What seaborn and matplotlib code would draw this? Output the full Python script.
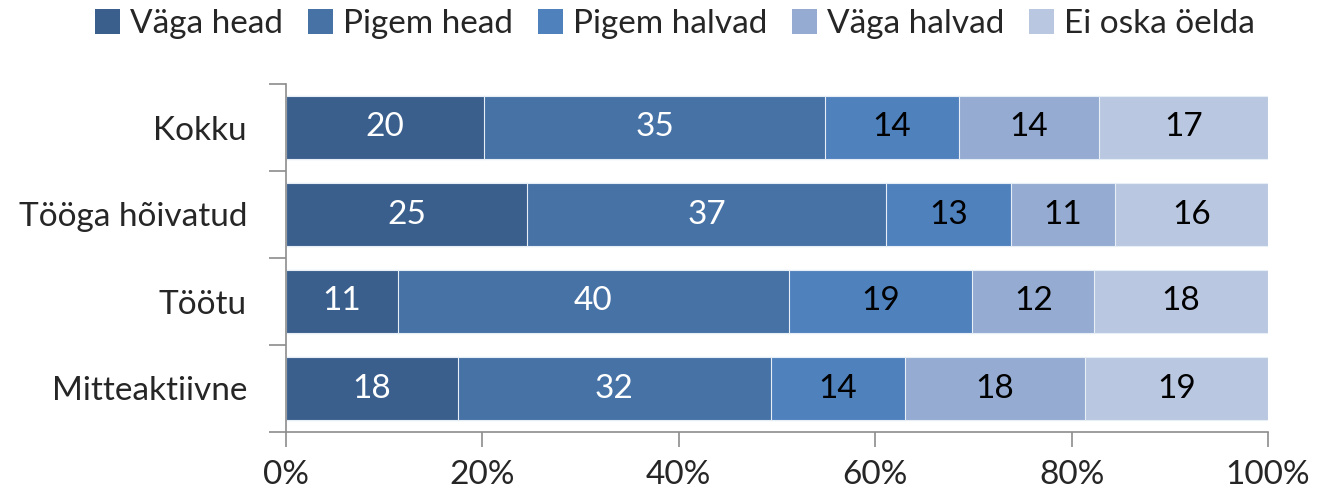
import numpy as np
import pandas as pd
import matplotlib
matplotlib.use("Agg")
import matplotlib.pyplot as plt
import seaborn as sns
from matplotlib.patches import Patch
from matplotlib.ticker import FixedLocator

categories = ["Kokku", "Tööga hõivatud", "Töötu", "Mitteaktiivne"]
series = ["Väga head", "Pigem head", "Pigem halvad", "Väga halvad", "Ei oska öelda"]
vaga_head = [20.2, 24.6, 11.4, 17.5]
pigem_head = [34.7, 36.6, 39.8, 31.9]
pigem_halvad = [13.6, 12.7, 18.7, 13.6]
vaga_halvad = [14.3, 10.6, 12.4, 18.4]
ei_oska = [17.2, 15.6, 17.7, 18.6]
xticks = [0, 20, 40, 60, 80, 100]
xtick_labels = ["0%", "20%", "40%", "60%", "80%", "100%"]

colors = ["#3A5F8D", "#4672A6", "#4F81BD", "#95ABD2", "#B9C7E0"]
text_colors = ["white", "white", "black", "black", "black"]

sns.set_theme(style="white")
plt.rcParams["font.family"] = ["Lato", "DejaVu Sans"]
FS = 24

raws = [vaga_head, pigem_head, pigem_halvad, vaga_halvad, ei_oska]
data = np.array(raws)
data = data / data.sum(axis=0) * 100
cum = np.cumsum(data, axis=0)

fig = plt.figure(figsize=(13.22, 4.97), dpi=100)
ax = fig.add_axes([286/1322, 1-432/497, (1268-286)/1322, (432-84)/497])

for i in range(len(series) - 1, -1, -1):
    df = pd.DataFrame({"cat": categories, "val": cum[i]})
    sns.barplot(data=df, y="cat", x="val", orient="h", color=colors[i],
                width=0.72, ax=ax, edgecolor="#E8EEF6", linewidth=0.8,
                saturation=1)

for i in range(len(series)):
    starts = cum[i] - data[i]
    for j in range(len(categories)):
        ax.text(starts[j] + data[i][j] / 2, j, f"{round(raws[i][j])}",
                ha="center", va="center", color=text_colors[i], fontsize=FS)

ax.set_xlim(0, 100)
ax.set_ylim(3.5, -0.5)
ax.set_xlabel("")
ax.set_ylabel("")
ax.set_xticks(xticks)
ax.set_xticklabels(xtick_labels, fontsize=FS)
ax.set_yticks(range(len(categories)))
ax.set_yticklabels(categories, fontsize=FS)
ax.yaxis.set_minor_locator(FixedLocator([-0.5, 0.5, 1.5, 2.5, 3.5]))
ax.tick_params(axis="y", which="major", length=0, pad=28)
ax.tick_params(axis="y", which="minor", length=12, width=1.2, color="#8C8C8C", left=True)
ax.tick_params(axis="x", which="major", length=11, width=1.2, color="#8C8C8C", bottom=True, pad=9)
for s in ["top", "right"]:
    ax.spines[s].set_visible(False)
for s in ["left", "bottom"]:
    ax.spines[s].set_color("#8C8C8C")
    ax.spines[s].set_linewidth(1.2)
ax.grid(False)

handles = [Patch(facecolor=c, edgecolor="none") for c in colors]
fig.legend(handles, series, loc="center", bbox_to_anchor=(675/1322, 1-24/497),
           ncol=5, frameon=False, fontsize=24, handlelength=0.75, handleheight=0.75,
           handletextpad=0.3, columnspacing=0.75)

fig.savefig("out.png", dpi=100)
